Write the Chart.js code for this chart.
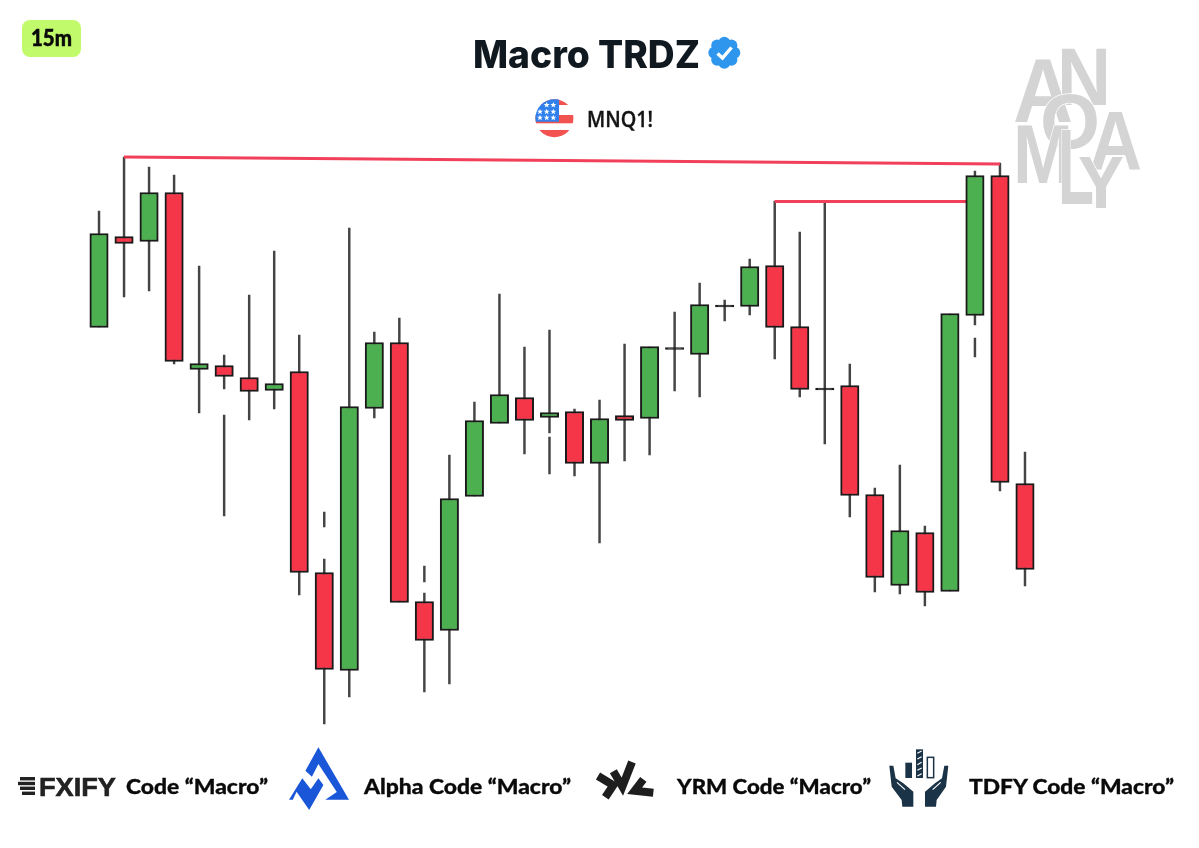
<!DOCTYPE html>
<html><head><meta charset="utf-8">
<style>
html,body{margin:0;padding:0;background:#fff}
#wrap{position:relative;width:1199px;height:848px;overflow:hidden}
canvas{position:absolute;left:0;top:0}
svg{position:absolute;left:0;top:0}
</style>
<script src="https://cdn.jsdelivr.net/npm/chart.js@4"></script>
</head><body>
<div id="wrap">
<canvas id="c" width="1199" height="848"></canvas>
<svg width="1199" height="848" viewBox="0 0 1199 848">
  <!-- timeframe badge -->
  <rect x="22" y="20" width="59" height="37" rx="8" fill="#c1fb6c"/>
  <text x="31" y="45.5" font-family="Lato" font-weight="900" font-size="23" textLength="41" lengthAdjust="spacingAndGlyphs" fill="#0a0a0a" stroke="#0a0a0a" stroke-width=".5">15m</text>
  <!-- title -->
  <text x="473" y="68" font-family="Inter" font-weight="800" font-size="38" textLength="227" lengthAdjust="spacingAndGlyphs" fill="#101820">Macro TRDZ</text>
  <g fill="#2f96ee">
    <circle cx="724.3" cy="52.7" r="12"/>
    <circle cx="724.3" cy="42.7" r="6"/><circle cx="724.3" cy="62.7" r="6"/>
    <circle cx="714.3" cy="52.7" r="6"/><circle cx="734.3" cy="52.7" r="6"/>
    <circle cx="717.2" cy="45.6" r="6"/><circle cx="731.4" cy="45.6" r="6"/>
    <circle cx="717.2" cy="59.8" r="6"/><circle cx="731.4" cy="59.8" r="6"/>
  </g>
  <path d="M717.5 53.5 L722.5 58 L731.5 47.5" fill="none" stroke="#fff" stroke-width="3.4"/>
  <!-- flag -->
  <defs>
    <clipPath id="fc"><circle cx="554.4" cy="118.3" r="19"/></clipPath>
    <polygon id="st" fill="#fff" points="0,-3 .8,-1 3,-1 1.2,.4 1.9,2.6 0,1.3 -1.9,2.6 -1.2,.4 -3,-1 -.8,-1"/>
  </defs>
  <g clip-path="url(#fc)">
    <rect x="530" y="95" width="50" height="50" fill="#fff"/>
    <rect x="530" y="99" width="50" height="6" fill="#f25350"/>
    <rect x="530" y="115" width="50" height="8.3" fill="#f25350"/>
    <rect x="530" y="130" width="50" height="9" fill="#f25350"/>
    <rect x="530" y="95" width="29" height="26.7" fill="#2f80ed"/>
    <use href="#st" x="546.7" y="105"/><use href="#st" x="553.3" y="105"/>
    <use href="#st" x="540" y="111.7"/><use href="#st" x="546.7" y="111.7"/><use href="#st" x="553.3" y="111.7"/>
    <use href="#st" x="540" y="117.7"/><use href="#st" x="546.7" y="117.7"/><use href="#st" x="553.3" y="117.7"/>
  </g>
  <text x="587" y="127" font-family="Open Sans" font-weight="600" font-size="21" textLength="66" lengthAdjust="spacingAndGlyphs" fill="#141414" stroke="#141414" stroke-width=".35">MNQ1!</text>
  <!-- watermark -->
  <g font-family="Liberation Sans" font-weight="700" fill="#d4d4d4" stroke="#fff" stroke-width="1.5" paint-order="stroke">
    <text x="1057" y="105" font-size="81" textLength="54" lengthAdjust="spacingAndGlyphs">N</text>
    <text x="1013" y="122" font-size="91" textLength="60" lengthAdjust="spacingAndGlyphs">A</text>
    <text x="1089" y="170" font-size="84" textLength="53" lengthAdjust="spacingAndGlyphs">A</text>
    <text x="1040" y="148" font-size="78" textLength="60" lengthAdjust="spacingAndGlyphs">O</text>
    <text x="1013" y="183" font-size="84" textLength="60" lengthAdjust="spacingAndGlyphs">M</text>
    <text x="1058" y="204" font-size="107" textLength="36" lengthAdjust="spacingAndGlyphs">L</text>
    <text x="1078" y="208" font-size="74" textLength="46" lengthAdjust="spacingAndGlyphs">Y</text>
  </g>
  <!-- FXIFY -->
  <g fill="#222">
    <rect x="20" y="777" width="15" height="3.4"/><rect x="18" y="781.8" width="17" height="3.4"/>
    <rect x="20" y="786.6" width="15" height="3.4"/><rect x="22" y="791.6" width="13" height="3.4"/>
  </g>
  <text x="39" y="795.5" font-family="Liberation Sans" font-weight="700" font-size="26" textLength="77" lengthAdjust="spacingAndGlyphs" fill="#222" stroke="#222" stroke-width=".6">FXIFY</text>
  <g font-family="Lato" font-weight="900" font-size="21" fill="#0a0a0a" stroke="#0a0a0a" stroke-width=".3">
    <text x="126" y="794" textLength="142" lengthAdjust="spacingAndGlyphs">Code “Macro”</text>
    <text x="364" y="794" textLength="207" lengthAdjust="spacingAndGlyphs">Alpha Code “Macro”</text>
    <text x="677" y="794" textLength="194" lengthAdjust="spacingAndGlyphs">YRM Code “Macro”</text>
    <text x="969" y="794" textLength="205" lengthAdjust="spacingAndGlyphs">TDFY Code “Macro”</text>
  </g>
  <!-- Alpha logo -->
  <polygon fill="#1a56d8" points="318.4,747.3 349,799.7 325.3,799.7 336.8,792 318.4,764 311.9,776.7 305.4,770.7"/>
  <polygon fill="#1a56d8" points="289,799.7 302.3,778.3 310.8,789.3 318.4,778.3 323.4,785 309.2,810 296.6,791.7 292.8,799.7"/>
  <!-- YRM logo -->
  <g transform="translate(590,760) scale(.3333)" fill="none" stroke="#1e1e1e" stroke-width="24">
    <path d="M24 48 L70 76 L46 112"/>
    <path d="M70 34 L97 80 L126 6"/>
    <path d="M160 58 L134 92 L190 98"/>
  </g>
  <!-- TDFY logo -->
  <g transform="translate(885,745) scale(.3333)" fill="#1b3347">
    <rect x="61" y="53" width="20" height="46"/>
    <rect x="93" y="13" width="21" height="86"/>
    <path d="M97 25 L110 18 M97 42 L110 35 M97 59 L110 52 M97 76 L110 69 M97 93 L110 86" stroke="#fff" stroke-width="3.5"/>
    <rect x="127" y="37" width="19" height="61" fill="none" stroke="#1b3347" stroke-width="4.5"/>
    <polygon points="13,62 25,62 32,100 55,115 85,140 85,185 52,185 50,165 20,125"/>
    <polygon points="190,62 178,62 171,100 150,115 120,140 120,185 153,185 155,165 183,125"/>
    <path d="M36 112 L60 134 M167 112 L143 134" stroke="#fff" stroke-width="3.5"/>
  </g>
</svg>
</div>
<script>
// Candle labels (bar index, no time axis shown in the reference)
const categories = Array.from({length:38},(_,i)=>'C'+(i+1));
const opens  = [520.5,611.5,606.5,655.5,478.5,482.5,470.5,457.5,476.5,275.5,177.5,439.5,505.5,246.5,217.5,351.5,424.5,450.5,430.5,436.5,384.5,432.5,429.5,499.5,493.5,542,541.5,582.5,521.5,459,462.5,353.5,262.5,315.5,256.5,532.5,672.5,364.5];
const closes = [614.5,604.5,655.5,486.5,484.5,471.5,456.5,464.5,275.5,178.5,441.5,505.5,245.5,207.5,349.5,427.5,453.5,427.5,435.5,384.5,429.5,427.5,501.5,499.5,543.5,542,581.5,520.5,458.5,459,352.5,270.5,317.5,255.5,534.5,672.5,365.5,278.5];
const highs  = [637,691,681,673,582,493,553,597,513,289,620,516,530,255,393,446,554,501,518,439,448,504,501,536,565,548,589,647,616,646,484,360,383,322,534,677,685,396];
const lows   = [521,551,557,484,435,459,428,439,253,124,151,430,246,156,164,352,425,394,415,372,305,387,393,457,451,527,533,489,451,404,331,256,254,242,257,523,357,262];
// Detached wick pieces visible in the picture: [index, low, high]
const wickPieces = [[5,332,433],[9,321,336],[13,266,282],[18,374,411],[35,491,510]];
// Level lines: [index, price]
const levelA = [[1,691],[36,684]];
const levelB = [[27,646.5],[35,646.5]];

const GREEN='#4caf50', RED='#f43648', DARK='#1f1f1f', WICK='#444444';
const bodies = opens.map((o,i)=> o===closes[i] ? [o-1,o+1] : [Math.min(o,closes[i]),Math.max(o,closes[i])]);
const fills  = opens.map((o,i)=> o===closes[i] ? DARK : (closes[i]>o ? GREEN : RED));
const wicks  = highs.map((h,i)=>[lows[i],h]);
const pieces = categories.map(()=>null);
wickPieces.forEach(p=>{pieces[p[0]]=[p[1],p[2]];});
const lineOf = pts => { const a=categories.map(()=>null); pts.forEach(p=>{a[p[0]]=p[1];}); return a; };

new Chart(document.getElementById('c'),{
  data:{labels:categories,datasets:[
    {type:'bar',label:'Bodies',data:bodies,backgroundColor:fills,borderColor:'#1a1a1a',borderWidth:2,borderSkipped:false,barThickness:18.4,grouped:false,order:0},
    {type:'line',label:'Level A',data:lineOf(levelA),borderColor:'#f2405a',borderWidth:2.8,pointRadius:0,spanGaps:true,tension:0,order:1},
    {type:'line',label:'Level B',data:lineOf(levelB),borderColor:'#f2405a',borderWidth:2.8,pointRadius:0,spanGaps:true,tension:0,order:1},
    {type:'bar',label:'Wicks',data:wicks,backgroundColor:WICK,borderWidth:0,barThickness:1.8,grouped:false,order:2},
    {type:'bar',label:'Wick pieces',data:pieces,backgroundColor:WICK,borderWidth:0,barThickness:1.8,grouped:false,order:2}
  ]},
  options:{
    responsive:false,animation:false,
    layout:{padding:{left:86.5,right:161.5,top:0,bottom:0}},
    plugins:{legend:{display:false},tooltip:{enabled:false},title:{display:false}},
    scales:{
      x:{type:'category',display:false,offset:true,grid:{display:false}},
      y:{type:'linear',display:false,min:0,max:848,grid:{display:false}}
    }
  }
});
</script>
</body></html>
